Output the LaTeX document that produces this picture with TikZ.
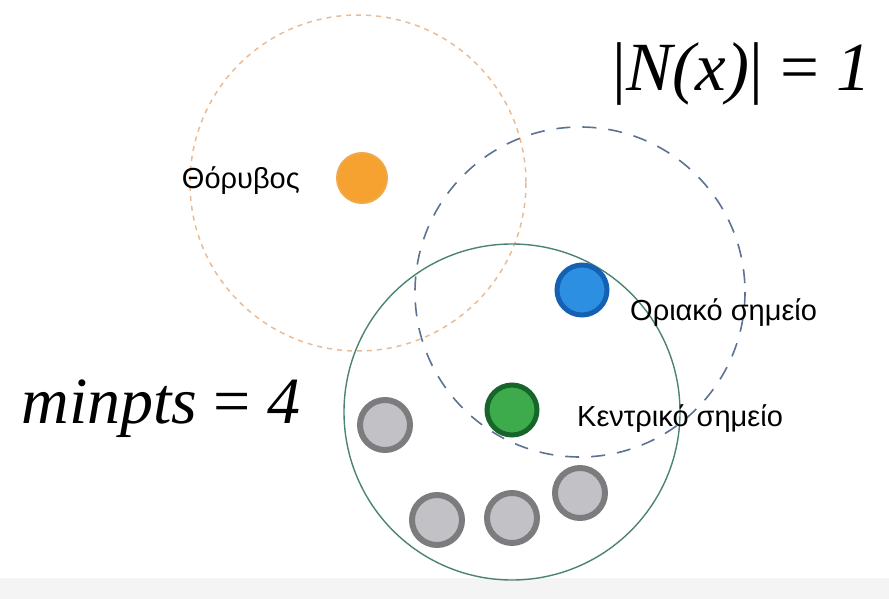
\documentclass[tikz,border=0pt]{standalone}
\usepackage{fontspec}
\setmainfont{Liberation Sans}
\newfontfamily\mathserif{Liberation Serif}
\definecolor{orangedot}{HTML}{F5A230}
\definecolor{orangeedge}{HTML}{F0A84A}
\definecolor{bluedot}{HTML}{2D8FE2}
\definecolor{blueedge}{HTML}{1461B4}
\definecolor{greendot}{HTML}{3DAA4B}
\definecolor{greenedge}{HTML}{17652A}
\definecolor{graydot}{HTML}{C2C2C6}
\definecolor{grayedge}{HTML}{7C7C7E}
\definecolor{orangering}{HTML}{E9BC96}
\definecolor{bluering}{HTML}{5C7292}
\definecolor{greenring}{HTML}{4C8374}
\definecolor{band}{HTML}{F4F4F4}
\tikzset{
  pt/.style={circle, minimum size=50pt, inner sep=0pt, line width=5pt},
  noise/.style={pt, fill=orangedot, draw=orangeedge, line width=2pt},
  border/.style={pt, fill=bluedot, draw=blueedge},
  core/.style={pt, fill=greendot, draw=greenedge},
  other/.style={pt, fill=graydot, draw=grayedge, line width=6pt},
  lbl/.style={font=\fontsize{29}{33}\selectfont, text=black, inner sep=0pt},
  formula/.style={font=\mathserif\itshape\fontsize{69}{76}\selectfont, inner sep=0pt},
}
\begin{document}
\begin{tikzpicture}[x=1pt,y=-1pt]
\useasboundingbox (0,0) rectangle (889,599);
\fill[band] (0,578) rectangle (889,599);
% neighbourhood circles
\draw[orangering, line width=1.5pt, dash pattern=on 5pt off 5pt] (358,183) circle (168);
\draw[bluering, line width=1.6pt, dash pattern=on 14pt off 12pt] (580,292) circle (165);
\draw[greenring, line width=1.4pt] (512,412) circle (168);
% points
\node[noise] (n) at (362,178) {};
\node[border] (b) at (582,290) {};
\node[core] (c) at (512,410) {};
\node[other] (g1) at (385,425) {};
\node[other] (g2) at (437,520) {};
\node[other] (g3) at (512,518) {};
\node[other] (g4) at (580,493) {};
% labels
\node[lbl, anchor=east] (tn) at (300,181) {Θόρυβος};
\node[lbl, anchor=west] (tb) at (630,313) {Οριακό σημείο};
\node[lbl, anchor=west] (tc) at (577,419) {Κεντρικό σημείο};
\node[formula, anchor=center] (nx) at (742,74) {\textup{|}N(x)\textup{|} \textup{=} 1};
\node[formula, font=\mathserif\itshape\fontsize{66}{72}\selectfont, anchor=center] (mp) at (161,409) {minpts \textup{=} 4};
\end{tikzpicture}
\end{document}
